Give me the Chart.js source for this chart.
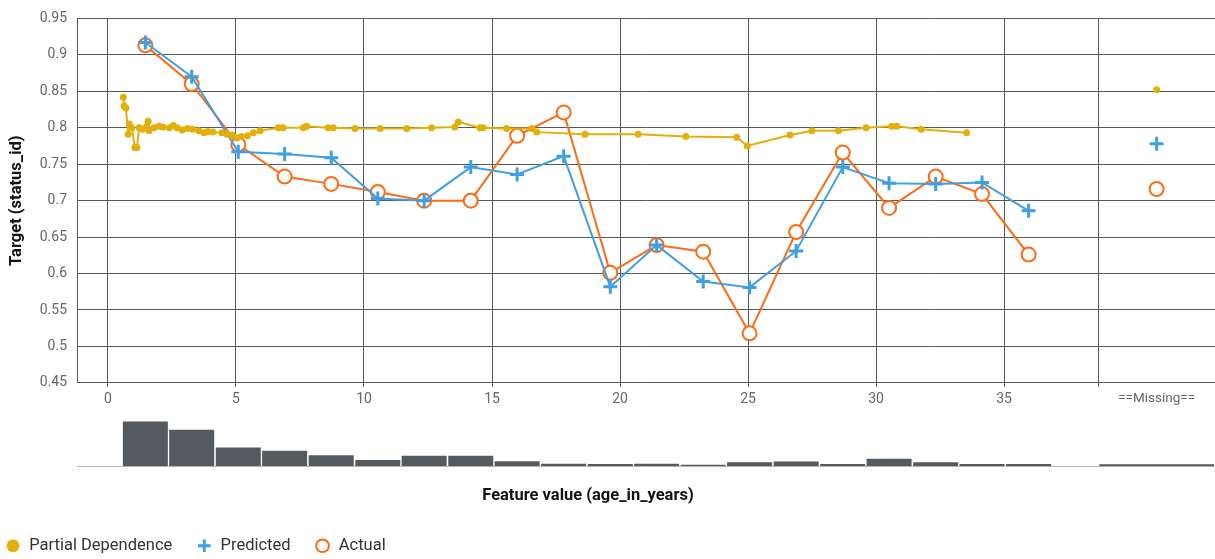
<!DOCTYPE html>
<html>
<head>
<meta charset="utf-8">
<script src="https://cdn.jsdelivr.net/npm/chart.js@4.4.1/dist/chart.umd.min.js"></script>
<style>
  html, body { margin: 0; padding: 0; background: #fff; }
  #wrap { position: relative; width: 1215px; height: 559px; overflow: hidden; }
  #main { position: absolute; left: 0; top: 0; }
  #hist { position: absolute; left: 0; top: 408px; }
</style>
</head>
<body>
<div id="wrap">
  <canvas id="main" width="1215" height="559"></canvas>
  <canvas id="hist" width="1215" height="70"></canvas>
</div>
<script>
// ---- data ----
const binCenters = [1.46, 3.27, 5.09, 6.90, 8.72, 10.54, 12.35, 14.17, 15.98, 17.80, 19.62, 21.43, 23.25, 25.06, 26.88, 28.70, 30.51, 32.33, 34.14, 35.96, 37.78];
const predicted = [0.917, 0.870, 0.767, 0.764, 0.759, 0.703, 0.700, 0.746, 0.736, 0.761, 0.582, 0.639, 0.589, 0.581, 0.631, 0.746, 0.724, 0.723, 0.725, 0.686, null];
const actual    = [0.913, 0.860, 0.777, 0.733, 0.723, 0.712, 0.700, 0.700, 0.789, 0.821, 0.601, 0.639, 0.630, 0.518, 0.657, 0.766, 0.690, 0.733, 0.709, 0.626, null];
const histCounts = [167, 136, 71, 59, 42, 25, 40, 40, 20, 11, 10, 11, 6, 16, 19, 10, 29, 16, 10, 10, 0];

const pdX = [0.60, 0.63, 0.70, 0.79, 0.83, 0.93, 1.05, 1.13, 1.22, 1.35, 1.50, 1.57, 1.60, 1.80, 2.00, 2.15, 2.40, 2.55, 2.70, 2.90, 3.10, 3.30, 3.55, 3.75, 3.90, 4.10, 4.45, 4.65, 4.85, 5.03, 5.20, 5.45, 5.68, 5.94, 6.65, 6.84, 7.63, 7.76, 8.60, 8.80, 9.65, 10.63, 11.67, 12.64, 13.55, 13.68, 14.53, 14.65, 15.57, 16.55, 16.75, 18.63, 20.71, 22.57, 24.56, 24.97, 26.64, 27.49, 28.53, 29.61, 30.61, 30.81, 31.76, 33.54];
const pdY = [0.842, 0.830, 0.827, 0.791, 0.805, 0.800, 0.773, 0.773, 0.800, 0.798, 0.801, 0.809, 0.796, 0.800, 0.802, 0.801, 0.800, 0.803, 0.800, 0.797, 0.799, 0.798, 0.796, 0.793, 0.795, 0.794, 0.793, 0.791, 0.790, 0.786, 0.788, 0.789, 0.793, 0.796, 0.800, 0.800, 0.800, 0.802, 0.800, 0.800, 0.799, 0.799, 0.799, 0.800, 0.801, 0.808, 0.800, 0.800, 0.799, 0.799, 0.794, 0.791, 0.791, 0.788, 0.787, 0.775, 0.790, 0.796, 0.796, 0.800, 0.802, 0.802, 0.798, 0.793];

const missingLabel = '==Missing==';
const missingPD = 0.852;
const missingPredicted = 0.778;
const missingActual = 0.716;
const missingCount = 10;

const xTickValues = [0, 5, 10, 15, 20, 25, 30, 35];
const xMin = -1.21, xMax = 43.24;
const missingStart = 38.68;   // separator between numeric range and missing bucket
const missingPos = 40.96;     // centre of the missing bucket
const missingWidthRatio = 2.52;

const yMin = 0.45, yMax = 0.95, yStep = 0.05;

// ---- colours ----
const cPD = '#e3b00b';
const cPred = '#3f9fe4';
const cAct = '#fd6b14';
const gridC = '#555a5e';
const tickC = '#666';

Chart.defaults.font.family = 'Roboto, "Noto Sans", sans-serif';

const xy = (xs, ys) => xs.map((x, i) => ({ x: x, y: ys[i] }));

const boxShift = {
  id: 'boxShift',
  afterLayout(chart) {
    if (chart.legend) { chart.legend.left -= 19; chart.legend.top += 5; }
    if (chart.titleBlock) { chart.titleBlock.left -= 19.5; chart.titleBlock.right -= 19.5; }
  }
};

new Chart(document.getElementById('main'), {
  type: 'line',
  data: {
    datasets: [
      { label: 'Partial Dependence', data: xy(pdX, pdY), borderColor: cPD, backgroundColor: cPD,
        pointBackgroundColor: cPD, pointBorderColor: cPD, borderWidth: 2, pointRadius: 3.5, pointBorderWidth: 0, pointStyle: 'circle' },
      { label: 'Predicted', data: xy(binCenters, predicted), borderColor: cPred, backgroundColor: cPred,
        pointBorderColor: cPred, borderWidth: 2, pointRadius: 7, pointBorderWidth: 3, pointStyle: 'cross' },
      { label: 'Actual', data: xy(binCenters, actual), borderColor: cAct, backgroundColor: '#fff',
        pointBackgroundColor: '#fff', pointBorderColor: cAct, borderWidth: 2, pointRadius: 7, pointBorderWidth: 2, pointStyle: 'circle' },
      { label: 'pd-missing', data: [{ x: missingPos, y: missingPD }], showLine: false, pointStyle: 'circle',
        pointRadius: 3.5, pointBorderWidth: 0, pointBackgroundColor: cPD, borderColor: cPD },
      { label: 'pred-missing', data: [{ x: missingPos, y: missingPredicted }], showLine: false, pointStyle: 'cross',
        pointRadius: 7, pointBorderWidth: 3, pointBorderColor: cPred, borderColor: cPred },
      { label: 'act-missing', data: [{ x: missingPos, y: missingActual }], showLine: false, pointStyle: 'circle',
        pointRadius: 7, pointBorderWidth: 2, pointBorderColor: cAct, pointBackgroundColor: '#fff', borderColor: cAct }
    ]
  },
  options: {
    responsive: false,
    animation: false,
    devicePixelRatio: 1,
    layout: { autoPadding: false, padding: { top: 15, right: 0, left: 0, bottom: 0 } },
    elements: { line: { tension: 0 } },
    scales: {
      x: {
        type: 'linear', min: xMin, max: xMax,
        afterBuildTicks: (axis) => {
          axis.ticks = xTickValues.concat([missingStart, missingPos]).map(v => ({ value: v }));
        },
        afterFit: (scale) => { scale.paddingLeft = 0; scale.paddingRight = 0; },
        grid: {
          color: (ctx) => (ctx.tick && ctx.tick.value === missingPos) ? 'rgba(0,0,0,0)' : gridC,
          lineWidth: 1, tickLength: 4
        },
        border: { color: gridC },
        ticks: {
          color: tickC, padding: 4, maxRotation: 0, autoSkip: false,
          font: (ctx) => ({ size: (ctx.tick && ctx.tick.value === missingPos) ? 13.5 : 14 }),
          callback: (v) => v === missingPos ? missingLabel : (v === missingStart ? '' : String(v))
        }
      },
      y: {
        min: yMin, max: yMax,
        ticks: { stepSize: yStep, color: tickC, font: { size: 14 }, padding: 10,
          callback: (v) => String(parseFloat(v.toFixed(2))) },
        grid: { color: gridC, lineWidth: 1, tickLength: 0 },
        border: { color: gridC },
        title: { display: true, text: 'Target (status_id)', color: '#111', font: { size: 16.5, weight: 'bold' }, padding: { top: 7, bottom: 4 } },
        afterFit: (scale) => { scale.width = 77; }
      }
    },
    plugins: {
      title: {
        display: true, position: 'bottom', align: 'center', weight: 500,
        text: 'Feature value (age_in_years)', color: '#111',
        font: { size: 16.5, weight: 'bold' }, padding: { top: 74, bottom: 3 }
      },
      legend: {
        position: 'bottom', align: 'start',
        labels: {
          filter: (item) => item.datasetIndex < 3,
          usePointStyle: true, boxWidth: 16, boxHeight: 9, padding: 24,
          color: '#333', font: { size: 16.5 }
        }
      },
      tooltip: { enabled: false }
    }
  },
  plugins: [boxShift]
});

new Chart(document.getElementById('hist'), {
  type: 'bar',
  data: {
    datasets: [
      { label: 'count', data: xy(binCenters, histCounts), backgroundColor: '#545a5d', borderColor: '#fff',
        borderWidth: 1, barPercentage: 1, categoryPercentage: 1, grouped: false },
      { label: 'missing', data: [{ x: missingPos, y: missingCount }], backgroundColor: '#545a5d', borderColor: '#fff',
        borderWidth: 1, barPercentage: missingWidthRatio, categoryPercentage: 1, grouped: false }
    ]
  },
  options: {
    responsive: false,
    animation: false,
    devicePixelRatio: 1,
    layout: { autoPadding: false, padding: { top: 0, right: 0, left: 0, bottom: 4 } },
    scales: {
      x: { type: 'linear', min: xMin, max: xMax, offset: false,
        afterFit: (scale) => { scale.paddingLeft = 0; scale.paddingRight = 0; },
        grid: { display: false }, ticks: { display: false },
        border: { display: true, color: '#b5b5b5' } },
      y: { min: 0, max: 214, display: true,
        grid: { display: false }, ticks: { display: false }, border: { display: false },
        afterFit: (scale) => { scale.width = 77; } }
    },
    plugins: { legend: { display: false }, tooltip: { enabled: false } }
  }
});
</script>
</body>
</html>
